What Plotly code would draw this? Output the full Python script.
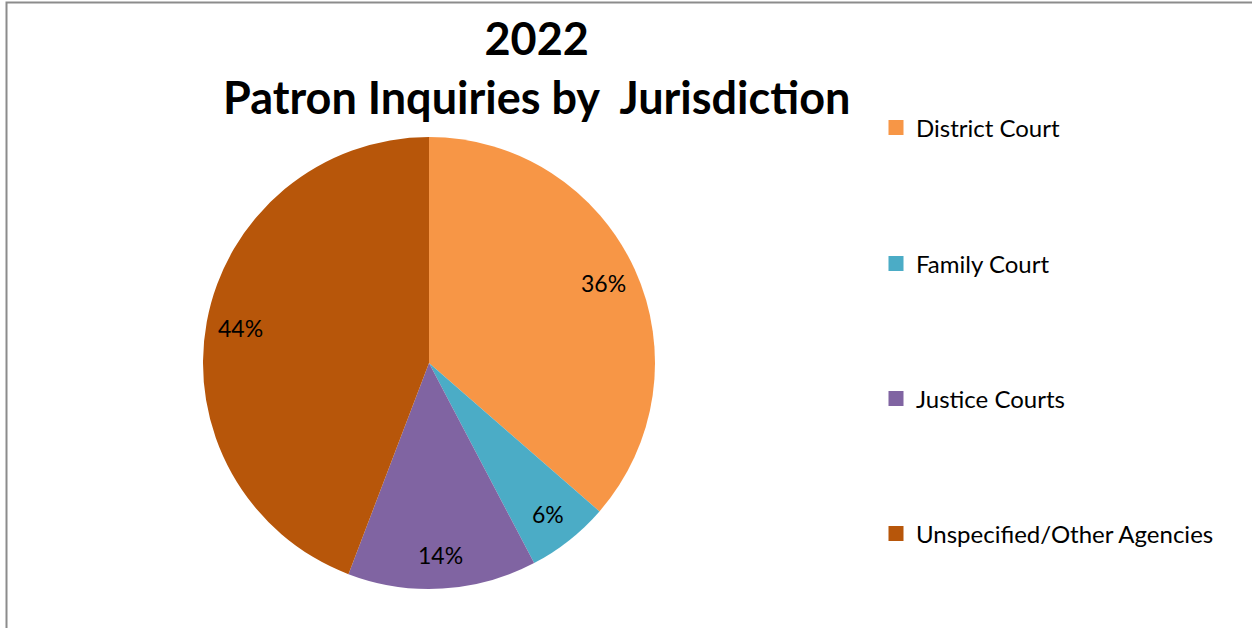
import math
import plotly.graph_objects as go

categories = ["District Court", "Family Court", "Justice Courts", "Unspecified/Other Agencies"]
values = [36.4, 5.9, 13.5, 44.2]
colors = ["#F79646", "#4BACC6", "#8064A2", "#B7560A"]
title_lines = ["2022", "Patron Inquiries by  Jurisdiction"]

W, H = 1252, 628
CX, CY, R = 429, 363, 226
FONT = "Lato, 'Open Sans', sans-serif"

fig = go.Figure()
fig.add_trace(go.Pie(
    labels=categories, values=values, sort=False, direction="clockwise", rotation=0,
    marker=dict(colors=colors, line=dict(width=0)),
    textinfo="none", showlegend=False, hoverinfo="label+percent",
    domain=dict(x=[(CX - R) / W, (CX + R) / W], y=[1 - (CY + R) / H, 1 - (CY - R) / H]),
))

# percent labels along each slice bisector
total = sum(values)
cum = 0.0
annotations = []
for v in values:
    mid = (cum + v / 2) / total * 2 * math.pi
    cum += v
    rr = 0.85 * R
    sx = CX + rr * math.sin(mid)
    sy = CY - rr * math.cos(mid)
    annotations.append(dict(
        x=sx / W, y=1 - sy / H, xref="paper", yref="paper", showarrow=False,
        text=f"{round(v / total * 100)}%", font=dict(family=FONT, size=23, color="#000000"),
        xanchor="center", yanchor="middle"))

annotations.append(dict(
    x=536 / W, y=1 - 68 / H, xref="paper", yref="paper", showarrow=False,
    text="<b>" + "<br>".join(title_lines) + "</b>",
    font=dict(family=FONT, size=45, color="#000000"), xanchor="center", yanchor="middle"))

# legend entries (one per legend so spacing matches)
legend_y = [128, 264, 399, 534]
layout_legends = {}
for i, (cat, col) in enumerate(zip(categories, colors)):
    name = "legend" if i == 0 else f"legend{i + 1}"
    fig.add_trace(go.Scatter(
        x=[None], y=[None], mode="markers", name=cat,
        marker=dict(symbol="square", size=15, color=col),
        legend=name, showlegend=True, hoverinfo="skip"))
    layout_legends[name] = dict(
        x=876 / W, y=1 - legend_y[i] / H, xanchor="left", yanchor="middle",
        font=dict(family=FONT, size=24, color="#000000"),
        bgcolor="rgba(0,0,0,0)", borderwidth=0, itemwidth=30)

fig.update_layout(
    width=W, height=H, margin=dict(l=0, r=0, t=0, b=0),
    paper_bgcolor="#FFFFFF", plot_bgcolor="#FFFFFF",
    xaxis=dict(visible=False), yaxis=dict(visible=False),
    annotations=annotations,
    shapes=[dict(type="rect", xref="paper", yref="paper",
                 x0=6.5 / W, x1=1.2, y0=-0.2, y1=1 - 2.5 / H,
                 line=dict(color="#8C8C8C", width=2), fillcolor="rgba(0,0,0,0)")],
    **layout_legends,
)

fig.write_html("out.html", config={"displayModeBar": False},
               post_script="document.body.style.margin='0';document.body.style.overflow='hidden';")
